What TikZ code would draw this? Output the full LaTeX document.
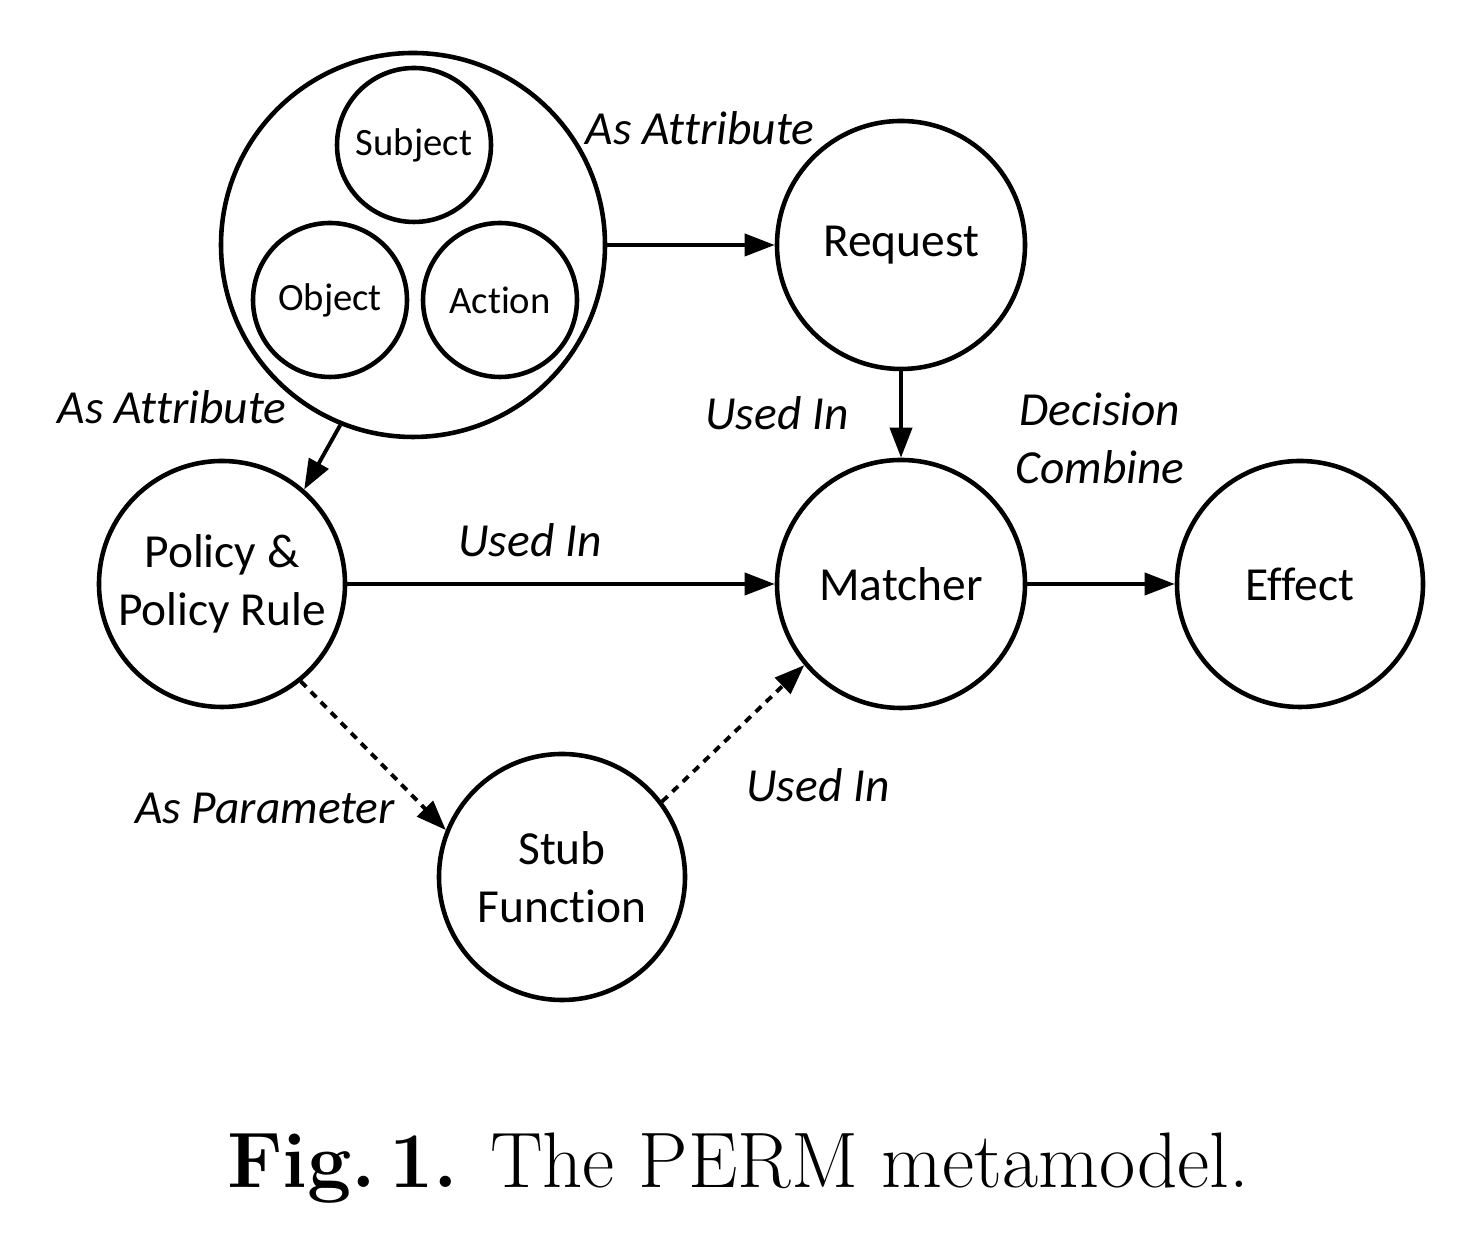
\documentclass[tikz,border=0pt]{standalone}
\usepackage{fontspec}
\setsansfont[RawFeature={-liga;-calt;-clig;-dlig;-rlig}]{Carlito}
\usetikzlibrary{arrows.meta}

\tikzset{
    state/.style={draw, circle, line width=1.3pt, inner sep=0pt, align=center,
        font=\sffamily\fontsize{13.5}{16.5}\selectfont},
    part/.style={state, minimum size=1.54cm, font=\sffamily\fontsize{11}{13}\selectfont},
    link/.style={-{Triangle[length=0.3cm,width=0.22cm]}, line width=1.1pt},
    dotlink/.style={link, dash pattern=on 2.2pt off 1.9pt},
    tag/.style={font=\sffamily\itshape\fontsize{13.5}{16.5}\selectfont, align=center}
}

\begin{document}
\begin{tikzpicture}
    \useasboundingbox (0,0) rectangle (14.78,12.56);

    % attribute group
    \node[state, minimum size=3.84cm] (attr) at (4.13,10.11) {};
    \node[part] (subject) at (4.14,11.11) {Subject};
    \node[part] (object) at (3.30,9.56) {Object};
    \node[part] (action) at (5.00,9.56) {Action};

    % main nodes
    \node[state, minimum size=2.48cm] (request) at (9.01,10.11) {Request};
    \node[state, minimum size=2.48cm] (matcher) at (9.01,6.72) {Matcher};
    \node[state, minimum size=2.46cm] (effect) at (13.00,6.72) {Effect};
    \node[state, minimum size=2.46cm] (policy) at (2.22,6.72) {Policy \&\\Policy Rule};
    \node[state, minimum size=2.46cm] (stub) at (5.62,3.79) {Stub\\Function};

    \draw[link] (attr) -- (request);
    \draw[link] (attr.248) -- (policy.49);
    \draw[link] (request) -- (matcher);
    \draw[link] (policy) -- (matcher);
    \draw[link] (matcher) -- (effect);
    \draw[dotlink] (policy.309) -- (stub.158);
    \draw[dotlink] (stub.37) -- (matcher.220);

    % edge labels
    \node[tag] (lattr1) at (7.00,11.28) {As Attribute};
    \node[tag] (lattr2) at (1.72,8.49) {As Attribute};
    \node[tag] (lused1) at (7.77,8.43) {Used In};
    \node[tag] (ldec) at (11.00,8.18) {Decision\\Combine};
    \node[tag] (lused2) at (5.30,7.16) {Used In};
    \node[tag] (lparam) at (2.65,4.48) {As Parameter};
    \node[tag] (lused3) at (8.18,4.71) {Used In};

    \node[font=\fontsize{22.4}{26}\selectfont] (caption) at (7.38,0.88)
        {\textbf{Fig.\,1.} The PERM metamodel.};

\end{tikzpicture}
\end{document}
